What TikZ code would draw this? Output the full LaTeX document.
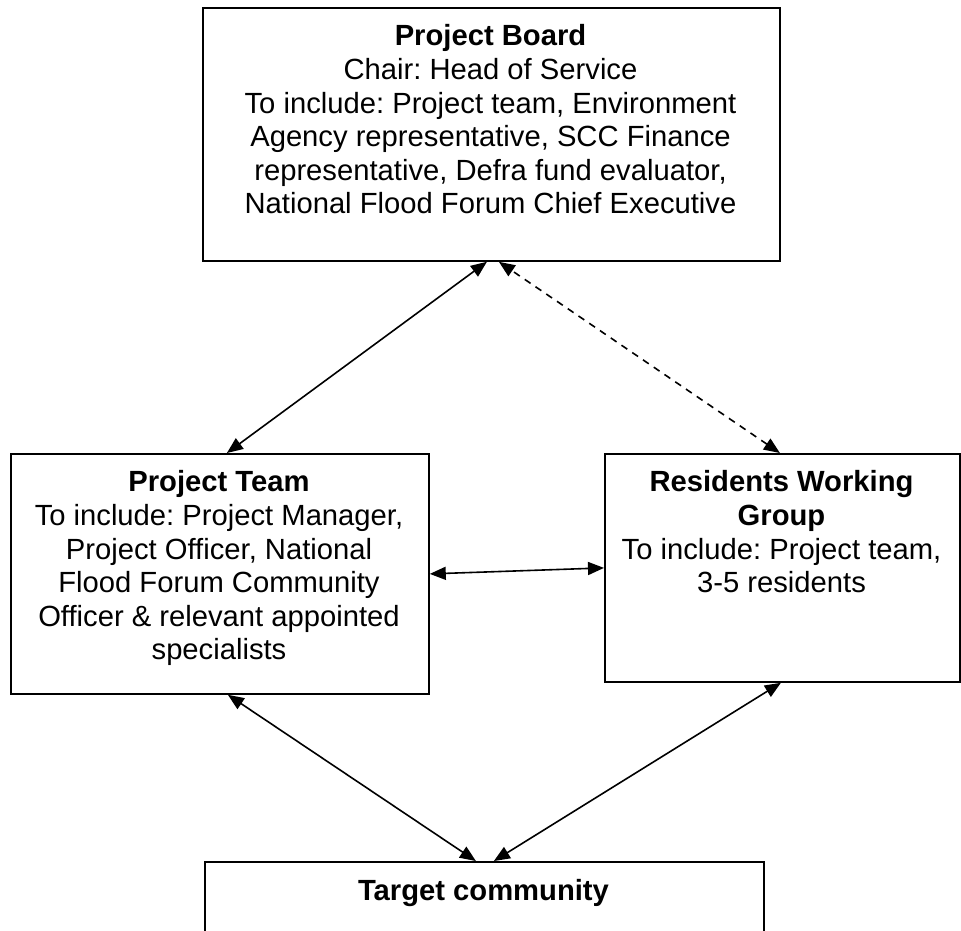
\documentclass[tikz,border=0pt]{standalone}
\usepackage{fontspec}
\setmainfont{Liberation Sans}
\usetikzlibrary{arrows.meta}
\frenchspacing
\begin{document}
\begin{tikzpicture}[x=1pt,y=-1pt,
  box/.style={draw, line width=1.8pt, rectangle, inner sep=0pt, anchor=north west},
  txt/.style={anchor=north, inner sep=0pt, align=center, font=\fontsize{29.2}{33.6}\selectfont},
  link/.style={line width=1.6pt, {Triangle[length=16pt,width=13pt]}-{Triangle[length=16pt,width=13pt]}},
  dlink/.style={link, dash pattern=on 7pt off 6pt},
]
\useasboundingbox (0,0) rectangle (961,930);
\fill[white] (0,0) rectangle (961,930);
% boxes
\node[box, minimum width=577pt, minimum height=253pt] (board) at (202,7) {};
\node[box, minimum width=418pt, minimum height=240pt] (team) at (10,453) {};
\node[box, minimum width=355pt, minimum height=228pt] (rwg) at (604,453) {};
\node[box, minimum width=559pt, minimum height=120pt] (target) at (204,861) {};
% texts
\node[txt] (boardtxt) at (490.5,24.6) {\textbf{Project Board}\\Chair: Head of Service\\To include: Project team, Environment\\Agency representative, SCC Finance\\representative, Defra fund evaluator,\\National Flood Forum Chief Executive};
\node[txt] (teamtxt) at (219,470.6) {\textbf{Project Team}\\To include: Project Manager,\\Project Officer, National\\Flood Forum Community\\Officer \& relevant appointed\\specialists};
\node[txt] (rwgtxt) at (781.5,470.6) {\textbf{Residents Working}\\\textbf{Group}\\To include: Project team,\\3-5 residents};
\node[txt] (targettxt) at (483.5,879.6) {\textbf{Target community}};
% connectors
\draw[link] ([xshift=7pt]team.north) -- ([xshift=-4.5pt]board.south);
\draw[dlink] ([xshift=-2.5pt]rwg.north) -- ([xshift=7.5pt]board.south);
\draw[link] (team.east) -- (rwg.west);
\draw[link] ([xshift=8pt]team.south) -- ([xshift=-8.5pt]target.north);
\draw[link] ([xshift=-1.5pt]rwg.south) -- ([xshift=9.5pt]target.north);
\end{tikzpicture}
\end{document}
